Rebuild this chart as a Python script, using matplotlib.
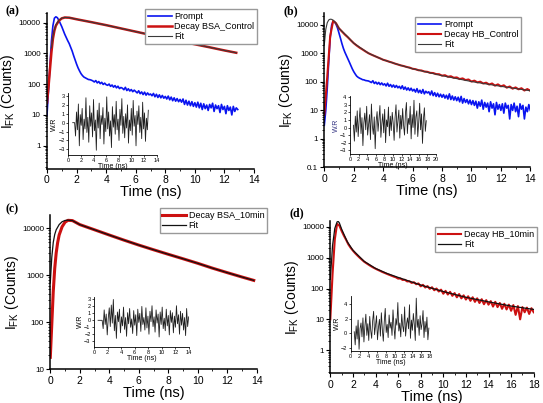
import numpy as np
import matplotlib
matplotlib.use("Agg")
import matplotlib.pyplot as plt
from matplotlib.ticker import FixedLocator, MultipleLocator, NullFormatter, FuncFormatter

plt.rcParams['font.family'] = ['Liberation Sans', 'DejaVu Sans']
plt.rcParams['mathtext.fontset'] = 'custom'
plt.rcParams['mathtext.rm'] = 'Liberation Sans'

# ---------------- data ----------------
# (a) BSA control, prompt sampled every 0.1 ns
prompt_a = [10, 60, 400, 2500, 8000, 14000, 15500, 14500, 12000, 9500,
            7400, 5600, 4200, 3300, 2600, 2100, 1600, 1200, 850, 620,
            450, 340, 270, 220, 190, 170, 160, 150, 142, 140, 135,
            128, 118, 131, 110, 122, 104, 115, 98, 108, 96,
            92, 101, 85, 94, 80, 90, 76, 86, 72, 78,
            74, 66, 79, 62, 71, 60, 67, 57, 64, 58,
            52, 61, 49, 56, 46, 55, 44, 52, 45, 48,
            42, 50, 39, 47, 37, 45, 36, 43, 35, 40,
            33, 41, 31, 38, 29, 36, 28, 34, 27, 32,
            26, 33, 22, 30, 21, 28, 20, 27, 19, 25,
            18, 26, 17, 24, 15, 23, 16, 21, 14, 22,
            17, 24, 13, 21, 16, 20, 12, 22, 15, 19,
            11, 20, 14, 18, 10, 19, 13, 17, 15]
decay_a_t = [0, 0.1, 0.2, 0.3, 0.4, 0.5, 0.6, 0.8, 1.0, 1.2, 1.5, 2, 3, 4, 5, 6, 7, 8, 9, 10, 11, 12, 12.8]
decay_a = [25, 80, 300, 1100, 3000, 5500, 8000, 11500, 13800, 14700, 14500, 12900,
           10400, 8300, 6500, 5100, 4000, 3150, 2500, 1980, 1580, 1250, 1050]
fit_a_t = [0.3, 0.4, 0.5, 0.6, 0.8, 1.0, 1.2, 1.5, 2, 3, 4, 5, 6, 7, 8, 9, 10, 11, 12, 12.8]
fit_a = [1500, 3500, 6000, 8500, 12000, 14000, 14800, 14600, 12900,
         10400, 8300, 6500, 5100, 4000, 3150, 2500, 1980, 1580, 1250, 1050]
wr_a = [0, 0, 0, -1.5, 1.2, -0.8, 2.1, -2.6, 0.9, -0.3, 1.6, -1.9, 0.4, -0.7, 2.8, -1.1,
        0.6, -2.2, 1.9, -0.4, 1.1, -1.6, 2.6, -0.9, 0.3, -3.1, 1.4, -0.6, 2.2, -1.8,
        0.8, -0.2, 1.7, -2.4, 0.5, -1.0, 2.9, -0.7, 1.2, -1.5, 0.2, -2.8, 1.8, -0.5,
        0.9, -1.3, 2.4, -0.8, 0.4, -2.0, 1.5, -0.3, 2.7, -1.2, 0.7, -1.7, 1.0, -0.6,
        2.0, -2.3, 0.3, -0.9, 1.6, -1.4, 2.5, -0.4, 0.8, -2.6, 1.3, -0.2, 1.9, -1.1,
        0.6, -1.8, 2.3, -0.7, 1.1, -2.1, 0.5, -0.8, 1.4]

# (b) HB control, prompt every 0.1 ns, decay every 0.2 ns
prompt_b = [3, 10, 60, 500, 3500, 10000, 13500, 13000, 10500, 7800,
            5200, 3400, 2200, 1500, 1100, 850, 650, 500, 380, 290,
            230, 190, 160, 145, 135, 128, 120, 118, 112, 110, 108,
            102, 95, 110, 88, 99, 84, 96, 80, 92, 78,
            86, 72, 90, 70, 81, 66, 78, 64, 75, 62,
            70, 58, 73, 55, 66, 52, 62, 50, 60, 48,
            55, 44, 58, 42, 51, 40, 54, 38, 47, 41,
            45, 35, 48, 33, 42, 31, 40, 30, 37, 29,
            36, 27, 34, 25, 38, 24, 32, 23, 30, 22,
            29, 20, 31, 18, 26, 19, 24, 17, 23, 16,
            22, 15, 21, 12, 20, 14, 23, 11, 19, 13,
            18, 9, 20, 12, 17, 7, 19, 11, 16, 10,
            17, 8, 18, 12, 15, 5, 16, 10, 18, 9,
            14, 6, 17, 11, 15, 5, 13, 9, 16, 10]
decay_b = [7, 150, 4000, 14000, 11500, 7600, 5900, 4600, 3700, 2900,
           2300, 1900, 1600, 1380, 1180, 1020, 910, 820, 740, 670,
           600, 560, 515, 480, 440, 410, 380, 360, 335, 318,
           290, 280, 258, 252, 232, 226, 208, 205, 188, 186,
           166, 172, 152, 158, 140, 144, 126, 133, 116, 122,
           103, 111, 96, 102, 88, 94, 81, 88, 74, 82,
           70, 76, 63, 69, 58, 64, 55, 60, 50, 56, 49]
fit_b_t = [0, 0.1, 0.2, 0.3, 0.4, 0.5, 0.6, 0.8, 1.0, 1.5, 2, 3, 4, 5, 6, 8, 10, 12, 14]
fit_b = [2000, 7000, 12000, 15000, 16000, 15800, 14800, 11500, 7600, 4300,
         2300, 1020, 600, 410, 290, 166, 103, 70, 49]
wr_b = [0.3, -1.8, 1.5, -0.6, 2.2, -1.2, 0.9, 2.6, -0.8, 1.3, -2.4, 0.6, 1.9, -0.3, 2.8,
        -1.0, 0.4, 1.7, -1.6, 3.1, 0.2, -0.9, 1.4, -2.8, 0.8, 2.1, -0.5, 1.1, 2.9, -1.3,
        0.5, 1.8, -0.7, 2.4, -2.0, 1.0, 0.1, 2.7, -1.1, 1.5, -0.4, 2.0, 0.6, -1.7, 1.3,
        3.0, -0.6, 0.9, 2.3, -1.4, 1.6, -0.2, 2.5, 0.3, -1.0, 1.9, 3.3, -0.8, 1.2, 0.4,
        2.8, -1.5, 1.7, 0.0, 3.6, -0.9, 1.4, 2.2, -1.2, 0.7, 3.2, -0.3, 1.8, -2.1, 1.1,
        2.6, -0.5, 0.9]

# (c) BSA 10 min
decay_c_t = [0, 0.1, 0.2, 0.3, 0.4, 0.5, 0.6, 0.8, 1.0, 1.2, 1.5, 2, 3, 4, 5, 6, 7, 8, 9, 10, 11, 12, 13, 13.8]
decay_c = [18, 90, 450, 1400, 3000, 5000, 7200, 10800, 13500, 14800, 14600, 12000,
           9300, 7200, 5600, 4400, 3500, 2800, 2250, 1800, 1420, 1140, 920, 780]
fit_c_t = [0, 0.1, 0.2, 0.3, 0.4, 0.6, 0.8, 1.0, 1.2, 1.5, 2, 3, 4, 5, 6, 7, 8, 9, 10, 11, 12, 13, 13.8]
fit_c = [700, 2400, 5000, 7400, 9300, 12000, 13800, 14700, 14900, 14600, 12000,
         9300, 7200, 5600, 4400, 3500, 2800, 2250, 1800, 1420, 1140, 920, 780]
wr_c = [0, 0, 0, 0, 0, -1.2, 1.5, -0.6, 0.9, -2.1, 0.3, 1.8, -0.9, 2.2, -0.4, 3.0, -1.5,
        0.7, -2.6, 1.2, -0.2, 1.6, -1.8, 0.5, -0.8, 1.9, -1.3, 0.4, -2.3, 1.1, -0.5,
        1.7, -1.0, 0.2, -1.9, 1.4, -0.7, 0.8, -2.2, 1.6, -0.3, 1.0, -1.6, 2.0, -0.6,
        0.4, -1.4, 1.8, -1.1, 0.6, -2.0, 1.3, -0.2, 2.1, -0.9, 0.5, -1.7, 1.5, -0.4,
        0.9, -2.4, 1.2, -0.6, 1.9, -1.2, 0.3, -1.5, 1.6, -0.8, 0.7, -2.1, 1.4, -0.3,
        1.1, -1.8, 0.6, -1.0, 2.1, -0.5, 0.8, -2.0, 1.3, -0.7, 1.0, -1.4, 0.4, -2.2,
        1.7, -0.9, 0.5]

# (d) HB 10 min, decay every 0.2 ns
decay_d = [10, 300, 4000, 12500, 11000, 7400, 5200, 3800, 2700, 2100,
           1700, 1400, 1180, 1000, 860, 740, 660, 590, 530, 480,
           440, 405, 375, 345, 322, 300, 280, 262, 245, 232,
           210, 212, 190, 192, 170, 172, 152, 160, 138, 146,
           118, 132, 108, 120, 98, 110, 88, 100, 80, 92,
           68, 84, 64, 78, 58, 71, 52, 66, 48, 60,
           44, 56, 40, 52, 37, 48, 34, 45, 31, 42,
           30, 39, 26, 37, 25, 34, 22, 32, 21, 30,
           19, 29, 14, 27, 10, 25, 17, 24, 15, 23, 17]
fit_d_t = [0, 0.2, 0.4, 0.6, 0.7, 0.8, 1.0, 1.5, 2, 3, 4, 5, 6, 8, 10, 12, 14, 16, 18]
fit_d = [200, 2500, 9000, 14500, 15000, 13500, 8500, 3300, 1750, 760, 450, 310,
         230, 130, 80, 52, 37, 27, 21]
wr_d = [0.2, -1.6, 1.0, -0.8, 1.8, -2.2, 0.6, 1.4, -0.5, 2.1, -1.2, 0.9, 2.6, -0.3, 1.3,
        -1.0, 2.3, 0.4, -0.7, 1.7, 3.0, -0.2, 1.1, 2.4, -0.9, 0.8, 1.9, -0.4, 2.8, 0.5,
        -1.1, 1.6, 3.4, 0.1, 1.2, -0.6, 2.5, 0.7, 1.5, -0.3, 3.2, 0.9, -0.8, 2.0, 1.1,
        4.2, 0.3, 1.4, -0.5, 2.6, 1.0, 0.2, 3.6, -0.4, 1.3, 2.1, 0.6, 3.9, -0.7, 1.8,
        0.4, 2.7, 1.2, -1.0, 4.8, 0.8, 1.9, -0.3, 2.4, 0.5, 1.3, 3.1, -0.6, 1.6, 0.2,
        2.2, -0.9, 0.7]

BLUE = '#0a14f0'
RED = '#cc1111'
FIT = '#3a3a3a'

W, H = 543, 403
fig = plt.figure(figsize=(W / 100, H / 100), dpi=100)


def px_axes(l, t, r, b):
    # axes placed by pixel box of the reference
    return fig.add_axes([l / W, 1 - b / H, (r - l) / W, (b - t) / H])


def style_main(ax, xmax, ylo, yhi, yticks):
    ax.set_yscale('log')
    ax.set_xlim(0, xmax)
    ax.set_ylim(ylo, yhi)
    for s in ['top', 'right']:
        ax.spines[s].set_visible(False)
    for s in ['left', 'bottom']:
        ax.spines[s].set_linewidth(1.1)
    ax.xaxis.set_major_locator(MultipleLocator(2))
    ax.xaxis.set_minor_locator(MultipleLocator(1))
    ax.yaxis.set_major_locator(FixedLocator(yticks))
    ax.yaxis.set_major_formatter(FuncFormatter(lambda v, p: '%g' % v))
    ax.yaxis.set_minor_formatter(NullFormatter())
    ax.tick_params(which='major', length=3, width=0.8, labelsize=5.8, pad=1.5)
    ax.tick_params(which='minor', length=1.5, width=0.6)
    ax.tick_params(axis='x', labelsize=7.5)
    ax.set_xlabel('Time (ns)', fontsize=10.5, labelpad=0)
    ax.set_ylabel(r'I$_{\mathrm{FK}}$ (Counts)', fontsize=10, labelpad=1)


def style_inset(ax, xmax, ylo, yhi, ystep):
    ax.set_facecolor('none')
    ax.set_xlim(0, xmax)
    ax.set_ylim(ylo, yhi)
    for s in ['top', 'right']:
        ax.spines[s].set_visible(False)
    for s in ['left', 'bottom']:
        ax.spines[s].set_linewidth(0.6)
    ax.xaxis.set_major_locator(MultipleLocator(2))
    ax.yaxis.set_major_locator(MultipleLocator(ystep))
    ax.tick_params(length=1.5, width=0.5, labelsize=4, pad=1)
    ax.set_xlabel('Time (ns)', fontsize=5, labelpad=0)
    ax.set_ylabel('W.R', fontsize=5, labelpad=0)


def legend(ax, x, y):
    ax.legend(loc='upper right', bbox_to_anchor=(x / W, 1 - y / H), bbox_transform=fig.transFigure,
              fontsize=6.5, frameon=True, fancybox=False, edgecolor='#999999', framealpha=1,
              handlelength=2.6, handletextpad=0.3, borderpad=0.3, labelspacing=0.15,
              borderaxespad=0)


# ---------------- (a) ----------------
ax = px_axes(47, 13, 254, 169)
ax.plot(np.arange(len(prompt_a)) * 0.1, prompt_a, color=BLUE, lw=1.2, label='Prompt')
ax.plot(decay_a_t, decay_a, color=RED, lw=1.8, label='Decay BSA_Control')
ax.plot(fit_a_t, fit_a, color=FIT, lw=0.8, label='Fit')
style_main(ax, 14, 0.175, 20600, [1, 10, 100, 1000, 10000])
legend(ax, 257, 9)
fig.text(6 / W, 1 - 11 / H, '(a)', fontsize=8.5, fontweight='bold', family='Liberation Serif', va='center')

ins = px_axes(68.3, 93.3, 156.5, 154.7)
ins.plot(0.7 + np.arange(len(wr_a)) * 0.15, wr_a, color='#202020', lw=0.6)
style_inset(ins, 14, -3.6, 3.3, 1)

# ---------------- (b) ----------------
ax = px_axes(324.3, 13, 530.3, 167.3)
ax.plot(np.arange(len(prompt_b)) * 0.1, prompt_b, color=BLUE, lw=1.2, label='Prompt')
ax.plot(np.arange(len(decay_b)) * 0.2, decay_b, color=RED, lw=1.5, label='Decay HB_Control')
ax.plot(fit_b_t, fit_b, color=FIT, lw=0.8, label='Fit')
style_main(ax, 14, 0.1, 26400, [0.1, 1, 10, 100, 1000, 10000])
legend(ax, 521, 17)
fig.text(283 / W, 1 - 11 / H, '(b)', fontsize=8.5, fontweight='bold', family='Liberation Serif', va='center')

ins = px_axes(350, 95.7, 436, 154)
ins.plot(0.8 + np.arange(len(wr_b)) * 0.22, wr_b, color='#202020', lw=0.6)
style_inset(ins, 20, -3.5, 4.2, 1)
ins.yaxis.label.set_color('#303080')

# ---------------- (c) ----------------
ax = px_axes(50.3, 215, 256.7, 369.3)
ax.plot(decay_c_t, decay_c, color=RED, lw=2.2, label='Decay BSA_10min')
ax.plot(fit_c_t, fit_c, color='#111111', lw=0.9, label='Fit')
style_main(ax, 14, 10, 19200, [10, 100, 1000, 10000])
legend(ax, 267, 208)
fig.text(6 / W, 1 - 209 / H, '(c)', fontsize=8.5, fontweight='bold', family='Liberation Serif', va='center')

ins = px_axes(94, 296.7, 189, 346.7)
ins.plot(0.6 + np.arange(len(wr_c)) * 0.15, wr_c, color='#202020', lw=0.6)
style_inset(ins, 14, -3.8, 3.4, 1)

# ---------------- (d) ----------------
ax = px_axes(330.3, 221, 533.7, 373.3)
ax.plot(np.arange(len(decay_d)) * 0.2, decay_d, color=RED, lw=1.5, label='Decay HB_10min')
ax.plot(fit_d_t, fit_d, color='#111111', lw=0.9, label='Fit')
style_main(ax, 18, 0.178, 15500, [1, 10, 100, 1000, 10000])
legend(ax, 537, 227)
fig.text(290 / W, 1 - 213 / H, '(d)', fontsize=8.5, fontweight='bold', family='Liberation Serif', va='center')

ins = px_axes(350.7, 296, 430, 350.7)
ins.plot(0.8 + np.arange(len(wr_d)) * 0.22, wr_d, color='#202020', lw=0.6)
style_inset(ins, 18, -2.4, 5.1, 2)

fig.savefig('out.png', dpi=100)
